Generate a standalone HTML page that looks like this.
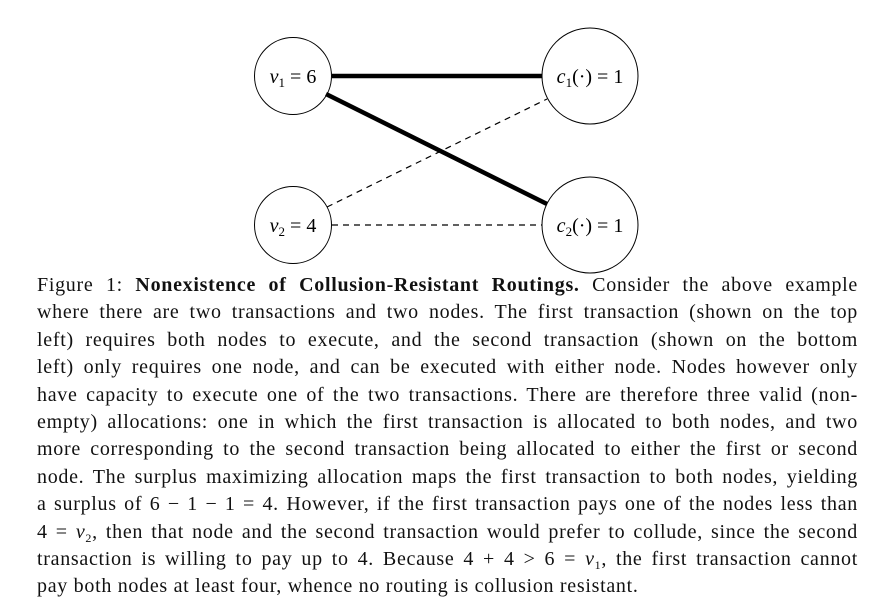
<!DOCTYPE html>
<html><head><meta charset="utf-8"><style>
body{margin:0;width:893px;height:612px;background:#fff;position:relative;overflow:hidden}
svg{position:absolute;left:0;top:0}
.t{position:absolute;left:37px;width:821px;font-family:"Liberation Serif",serif;font-size:20px;letter-spacing:0.7px;line-height:27.4px;color:#111;top:272px}
.t div{height:27.4px;text-align:justify;text-align-last:justify;white-space:nowrap}
.t div.l{text-align-last:left}
i{font-style:italic}
sub{font-size:12px;line-height:0;vertical-align:baseline;position:relative;top:4px}
</style></head><body>
<svg width="893" height="280" font-family="Liberation Serif, serif" font-size="20">
<line x1="332" y1="76" x2="542" y2="76" stroke="#000" stroke-width="4.5"/>
<line x1="326" y1="94" x2="547" y2="204" stroke="#000" stroke-width="4.5"/>
<line x1="327" y1="207" x2="547" y2="99" stroke="#000" stroke-width="1.2" stroke-dasharray="6,5"/>
<line x1="332" y1="225" x2="542" y2="225" stroke="#000" stroke-width="1.2" stroke-dasharray="6,5"/>
<circle cx="293" cy="76" r="38.5" fill="none" stroke="#000" stroke-width="1"/>
<circle cx="590" cy="76" r="48" fill="none" stroke="#000" stroke-width="1"/>
<circle cx="293" cy="225" r="38.5" fill="none" stroke="#000" stroke-width="1"/>
<circle cx="590" cy="225" r="48" fill="none" stroke="#000" stroke-width="1"/>
<text x="293" y="83" text-anchor="middle"><tspan font-style="italic">v</tspan><tspan font-size="13" dy="4">1</tspan><tspan dy="-4"> = 6</tspan></text>
<text x="293" y="232" text-anchor="middle"><tspan font-style="italic">v</tspan><tspan font-size="13" dy="4">2</tspan><tspan dy="-4"> = 4</tspan></text>
<text x="590" y="83" text-anchor="middle"><tspan font-style="italic">c</tspan><tspan font-size="13" dy="4">1</tspan><tspan dy="-4">(·) = 1</tspan></text>
<text x="590" y="232" text-anchor="middle"><tspan font-style="italic">c</tspan><tspan font-size="13" dy="4">2</tspan><tspan dy="-4">(·) = 1</tspan></text>
</svg>
<div class="t">
<div>Figure 1: <b>Nonexistence of Collusion-Resistant Routings.</b> Consider the above example</div>
<div>where there are two transactions and two nodes. The first transaction (shown on the top</div>
<div>left) requires both nodes to execute, and the second transaction (shown on the bottom</div>
<div>left) only requires one node, and can be executed with either node. Nodes however only</div>
<div>have capacity to execute one of the two transactions. There are therefore three valid (non-</div>
<div>empty) allocations: one in which the first transaction is allocated to both nodes, and two</div>
<div>more corresponding to the second transaction being allocated to either the first or second</div>
<div>node. The surplus maximizing allocation maps the first transaction to both nodes, yielding</div>
<div>a surplus of 6 − 1 − 1 = 4. However, if the first transaction pays one of the nodes less than</div>
<div>4 = <i>v</i><sub>2</sub>, then that node and the second transaction would prefer to collude, since the second</div>
<div>transaction is willing to pay up to 4. Because 4 + 4 &gt; 6 = <i>v</i><sub>1</sub>, the first transaction cannot</div>
<div class="l">pay both nodes at least four, whence no routing is collusion resistant.</div>
</div>
</body></html>
